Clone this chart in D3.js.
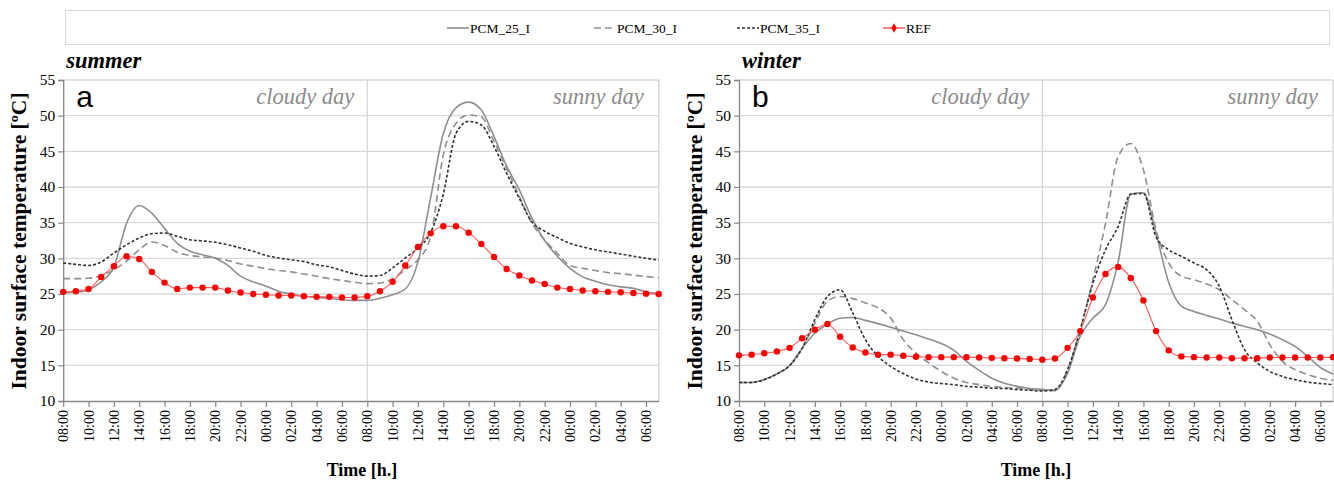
<!DOCTYPE html>
<html>
<head>
<meta charset="utf-8">
<script src="https://cdn.jsdelivr.net/npm/d3@7/dist/d3.min.js"></script>
<style>
  html, body { margin: 0; padding: 0; background: #fff; }
  svg { display: block; }
</style>
</head>
<body>
<svg id="chart" width="1334" height="481"></svg>
<script>
// ---- categories (hourly, two days starting 08:00) ----
const hours = ["08:00","09:00","10:00","11:00","12:00","13:00","14:00","15:00","16:00","17:00","18:00","19:00",
  "20:00","21:00","22:00","23:00","00:00","01:00","02:00","03:00","04:00","05:00","06:00","07:00",
  "08:00","09:00","10:00","11:00","12:00","13:00","14:00","15:00","16:00","17:00","18:00","19:00",
  "20:00","21:00","22:00","23:00","00:00","01:00","02:00","03:00","04:00","05:00","06:00","07:00"];
const yTicks = [10, 15, 20, 25, 30, 35, 40, 45, 50, 55];
const seriesNames = ["PCM_25_I", "PCM_30_I", "PCM_35_I", "REF"];
const panelTitles = ["summer", "winter"];
const panelLetters = ["a", "b"];
const dayLabels = ["cloudy day", "sunny day"];

// ---- summer values ----
const summerPCM25 = [25.2,25.25,25.6,26.7,28.8,34.9,37.4,36.3,34.2,32.1,31.0,30.5,30.0,29.0,27.5,26.7,26.1,25.4,25.0,24.7,24.5,24.4,24.2,24.1,
  24.1,24.4,24.9,25.7,29.5,38.5,47.5,51.1,51.9,50.8,47.1,42.9,39.6,35.6,32.5,30.3,28.6,27.4,26.8,26.3,26.0,25.8,25.3,25.05];
const summerPCM30 = [27.15,27.15,27.2,27.6,28.4,29.6,31.2,32.3,31.8,30.85,30.4,30.2,30.05,29.7,29.2,28.9,28.55,28.3,28.1,27.8,27.5,27.15,26.9,26.65,
  26.45,26.55,27.15,28.4,29.8,33.0,44.5,48.9,50.1,49.8,46.4,42.6,38.7,34.9,32.6,30.7,29.0,28.6,28.3,28.0,27.85,27.65,27.45,27.3];
const summerPCM35 = [29.35,29.15,29.0,29.5,30.75,31.9,32.85,33.45,33.55,33.1,32.6,32.45,32.25,31.9,31.45,31.0,30.4,30.05,29.8,29.55,29.1,28.8,28.3,27.8,
  27.5,27.6,28.65,30.05,31.45,33.6,39.0,47.5,49.2,48.7,45.7,41.9,38.4,35.1,33.8,32.9,32.1,31.6,31.2,30.9,30.6,30.3,30.0,29.75];
const summerREF = [25.3,25.4,25.7,27.4,28.9,30.3,29.9,28.1,26.6,25.7,25.9,25.9,25.9,25.5,25.2,25.0,24.9,24.8,24.8,24.7,24.6,24.6,24.5,24.5,
  24.7,25.4,26.7,29.0,31.6,33.5,34.5,34.5,33.6,32.0,30.2,28.5,27.6,26.9,26.4,25.9,25.7,25.5,25.4,25.3,25.25,25.15,25.05,25.0];

// ---- winter values ----
const winterPCM25 = [12.6,12.6,13.0,13.8,14.95,17.4,19.5,20.8,21.6,21.7,21.3,20.85,20.35,19.8,19.3,18.7,18.05,17.1,15.55,14.3,13.2,12.5,12.05,11.75,
  11.65,11.5,13.9,19.1,21.6,23.5,29.5,39.0,39.2,33.5,26.6,23.3,22.55,22.0,21.5,20.95,20.45,20.0,19.4,18.6,17.65,16.25,14.7,13.8];
const winterPCM30 = [12.6,12.6,13.0,13.8,14.95,17.4,20.9,24.0,24.65,24.35,23.75,23.05,21.65,18.6,16.75,15.35,14.15,13.2,12.6,12.3,12.05,11.9,11.8,11.6,
  11.5,11.45,14.4,20.0,27.0,34.9,44.3,46.1,42.4,34.0,29.35,27.5,27.0,26.4,25.6,24.2,22.8,21.2,17.9,15.55,14.4,13.7,13.2,12.9];
const winterPCM35 = [12.6,12.6,13.0,13.8,14.95,17.4,21.4,24.65,25.6,22.35,18.6,16.25,14.85,13.85,13.1,12.65,12.45,12.3,12.05,11.95,11.8,11.75,11.6,11.5,
  11.4,11.6,14.4,20.0,26.5,31.2,34.45,39.0,39.1,33.0,31.2,30.3,29.35,28.4,26.1,21.4,17.2,15.35,14.15,13.45,13.0,12.65,12.45,12.3];
const winterREF = [16.4,16.5,16.7,16.95,17.45,18.8,20.0,20.8,19.0,17.5,16.8,16.5,16.5,16.35,16.2,16.15,16.15,16.15,16.15,16.1,16.05,16.0,15.95,15.9,
  15.8,15.95,17.45,19.8,24.5,27.8,28.8,27.25,24.1,19.8,17.1,16.25,16.15,16.1,16.1,16.0,16.0,16.0,16.1,16.1,16.1,16.1,16.1,16.15];

const panelsData = [
  [summerPCM25, summerPCM30, summerPCM35, summerREF],
  [winterPCM25, winterPCM30, winterPCM35, winterREF]
];

const styles = [
  { stroke: "#8f8f8f", width: 1.6, dash: null },
  { stroke: "#8f8f8f", width: 1.6, dash: "7,4" },
  { stroke: "#333333", width: 1.6, dash: "3,2" },
  { stroke: "#ff5a5a", width: 1.1, dash: null }
];

const svg = d3.select("#chart");
const serif = "'Liberation Serif', 'Times New Roman', Times, serif";

// ---- legend ----
svg.append("rect").attr("x", 65.5).attr("y", 10.5).attr("width", 1264).attr("height", 34)
  .attr("fill", "#fff").attr("stroke", "#d9d9d9").attr("stroke-width", 1);
const legendX = [447, 594, 737, 883];
seriesNames.forEach((name, k) => {
  const g = svg.append("g");
  const st = styles[k];
  g.append("line").attr("x1", legendX[k]).attr("x2", legendX[k] + 22).attr("y1", 28).attr("y2", 28)
    .attr("stroke", k === 3 ? "#ff2020" : st.stroke).attr("stroke-width", st.width)
    .attr("stroke-dasharray", st.dash);
  if (k === 3) {
    g.append("path").attr("d", d3.symbol(d3.symbolDiamond, 26)())
      .attr("transform", `translate(${legendX[k] + 11},28)`).attr("fill", "#ff0000");
  }
  g.append("text").attr("x", legendX[k] + 23).attr("y", 33)
    .style("font-family", serif).style("font-size", "13.5px").attr("fill", "#000").text(name);
});

// ---- panels ----
const panelGeom = [
  { x0: 63.2, x1: 658.7, axisLabelX: 18, timeX: 362 },
  { x0: 739, x1: 1333, axisLabelX: 694, timeX: 1036 }
];
const yTop = 80, yBot = 401;

panelGeom.forEach((pg, p) => {
  const x = d3.scaleLinear().domain([0, hours.length - 1]).range([pg.x0, pg.x1]);
  const y = d3.scaleLinear().domain([10, 55]).range([yBot, yTop]);
  const g = svg.append("g");

  // gridlines
  g.selectAll("line.grid").data(yTicks.filter(v => v > 10)).enter().append("line")
    .attr("x1", pg.x0).attr("x2", pg.x1).attr("y1", d => y(d)).attr("y2", d => y(d))
    .attr("stroke", "#d9d9d9").attr("stroke-width", 1.4);
  // right border
  g.append("line").attr("x1", pg.x1).attr("x2", pg.x1).attr("y1", yTop).attr("y2", yBot)
    .attr("stroke", "#d9d9d9").attr("stroke-width", 1.4);
  // mid vertical day separator
  g.append("line").attr("x1", x(24)).attr("x2", x(24)).attr("y1", yTop).attr("y2", yBot)
    .attr("stroke", "#d4d4d4").attr("stroke-width", 1.2);

  // y axis
  const yAxis = d3.axisLeft(y).tickValues(yTicks).tickSize(5).tickPadding(3).tickFormat(d3.format("d"));
  const ya = g.append("g").attr("transform", `translate(${pg.x0},0)`).call(yAxis);
  ya.select(".domain").attr("stroke", "#868686").attr("stroke-width", 1.3);
  ya.selectAll(".tick line").attr("stroke", "#868686").attr("stroke-width", 1.2);
  ya.selectAll("text").style("font-family", serif).style("font-size", "15.5px").attr("fill", "#000");

  // x axis
  const evenIdx = d3.range(0, hours.length, 2);
  const xAxis = d3.axisBottom(x).tickValues(evenIdx).tickSize(6).tickSizeOuter(0)
    .tickFormat(i => hours[i]);
  const xa = g.append("g").attr("transform", `translate(0,${yBot})`).call(xAxis);
  xa.select(".domain").attr("stroke", "#868686").attr("stroke-width", 1.3);
  xa.selectAll(".tick line").attr("stroke", "#868686").attr("stroke-width", 1.2);
  xa.selectAll("text").style("font-family", serif).style("font-size", "14px").attr("fill", "#000")
    .attr("transform", "rotate(-90)").attr("text-anchor", "end")
    .attr("x", -9).attr("y", 0).attr("dy", "0.33em");

  // series
  const line = d3.line().x((d, i) => x(i)).y(d => y(d)).curve(d3.curveMonotoneX);
  panelsData[p].forEach((vals, k) => {
    const st = styles[k];
    g.append("path").datum(vals).attr("d", line).attr("fill", "none")
      .attr("stroke", st.stroke).attr("stroke-width", st.width)
      .attr("stroke-dasharray", st.dash).attr("stroke-linejoin", "round");
    if (k === 3) {
      g.selectAll("circle.mk").data(vals).enter().append("circle")
        .attr("cx", (d, i) => x(i)).attr("cy", d => y(d)).attr("r", 3.2)
        .attr("fill", "#ff0000");
    }
  });

  // titles
  g.append("text").attr("x", pg.x0 + 3).attr("y", 68).style("font-family", serif)
    .style("font-style", "italic").style("font-weight", "bold").style("font-size", "22.5px").text(panelTitles[p]);
  g.append("text").attr("x", pg.x0 + 13).attr("y", 107).style("font-family", "'Liberation Sans', Arial, sans-serif")
    .style("font-size", "30px").attr("fill", "#000").text(panelLetters[p]);
  g.append("text").attr("x", x(24) - 13).attr("y", 104).attr("text-anchor", "end")
    .style("font-family", serif).style("font-style", "italic").style("font-size", "22.5px").attr("fill", "#8c8c8c")
    .text(dayLabels[0]);
  g.append("text").attr("x", pg.x1 - 15).attr("y", 104).attr("text-anchor", "end")
    .style("font-family", serif).style("font-style", "italic").style("font-size", "22.5px").attr("fill", "#8c8c8c")
    .text(dayLabels[1]);

  // axis titles
  g.append("text").attr("transform", `translate(${pg.axisLabelX},241) rotate(-90)`)
    .attr("text-anchor", "middle").attr("dy", "0.35em").style("font-family", serif).style("font-weight", "bold")
    .style("font-size", "21.5px").text("Indoor surface temperature [ºC]");
  g.append("text").attr("x", pg.timeX).attr("y", 476).attr("text-anchor", "middle")
    .style("font-family", serif).style("font-weight", "bold").style("font-size", "18px").text("Time [h.]");
});
</script>
</body>
</html>
